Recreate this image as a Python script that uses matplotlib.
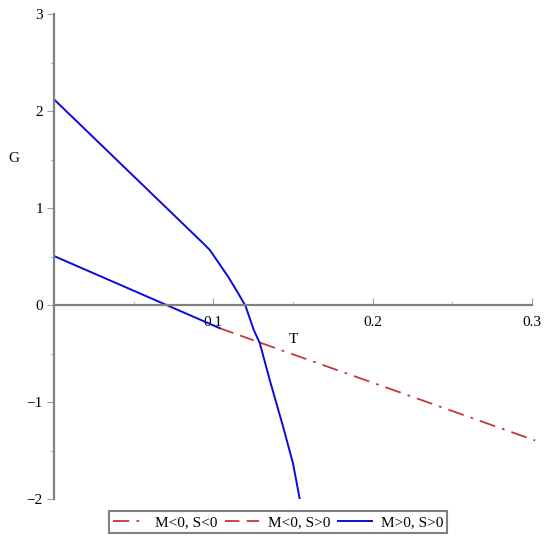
import matplotlib
matplotlib.use('Agg')
import matplotlib.pyplot as plt

plt.rcParams.update({
    'font.family': ['Liberation Serif', 'DejaVu Serif'],
    'font.size': 11,
})

# Data
upper_T = [0.0, 0.094, 0.0978, 0.1093, 0.1156, 0.1202, 0.1254, 0.1292, 0.1354, 0.1438, 0.1500, 0.1542]
upper_G = [2.12, 0.63, 0.567, 0.292, 0.121, -0.01, -0.258, -0.395, -0.773, -1.255, -1.632, -2.0]
lower_T = [0.0, 0.0706, 0.104]
lower_G = [0.505, 0.0, -0.239]
dash_T = [0.104, 0.129]
dash_G = [-0.239, -0.386]
dashdot_T = [0.129, 0.302]
dashdot_G = [-0.386, -1.397]

labels = ['M<0, S<0', 'M<0, S>0', 'M>0, S>0']
RED = '#c83737'
BLUE = '#0a0ae0'

fig = plt.figure(figsize=(5.48, 5.43), dpi=100)
ax = fig.add_axes([54 / 548, 44 / 543, 478 / 548, 485 / 543])

l1, = ax.plot(dashdot_T, dashdot_G, color=RED, lw=1.3, dashes=(9, 4, 1.5, 4), clip_on=False)
l2, = ax.plot(dash_T, dash_G, color=RED, lw=1.3, dashes=(8, 4))
l3, = ax.plot(upper_T, upper_G, color=BLUE, lw=1.4)
ax.plot(lower_T, lower_G, color=BLUE, lw=1.4)

ax.set_xlim(0, 0.3)
ax.set_ylim(-2, 3)

for s in ['top', 'right']:
    ax.spines[s].set_visible(False)
ax.spines['bottom'].set_position(('data', 0))
ax.spines['left'].set_position(('data', 0))
for s in ['bottom', 'left']:
    ax.spines[s].set_color('#808080')
    ax.spines[s].set_linewidth(1.6)

ax.set_xticks([0.1, 0.2, 0.3])
ax.set_xticklabels(['0.1', '0.2', '0.3'])
ax.set_xticks([0.05, 0.15, 0.25], minor=True)
ax.set_yticks([-2, -1, 0, 1, 2, 3])
ax.set_yticklabels(['\u22122', '\u22121', '0', '1', '2', '3'])
ax.set_yticks([-1.5, -0.5, 0.5, 1.5, 2.5], minor=True)

ax.tick_params(axis='x', which='major', direction='in', length=5, width=0.8,
               color='#a0a0a0', pad=8, labelsize=11)
ax.tick_params(axis='x', which='minor', direction='in', length=3, width=0.8, color='#c0c0c0')
ax.tick_params(axis='y', which='major', direction='out', length=5, width=0.8,
               color='#a0a0a0', pad=3, labelsize=11)
ax.tick_params(axis='y', which='minor', direction='out', length=3, width=0.8, color='#c0c0c0')

ax.text(0.5, 0.328, 'T', transform=ax.transAxes, ha='center', va='center', fontsize=11)
ax.text(-0.084, 0.703, 'G', transform=ax.transAxes, ha='center', va='center', fontsize=11)

leg = fig.legend([l1, l2, l3], labels, loc='center', bbox_to_anchor=(278 / 548, 1 - 522 / 543),
                 ncol=3, frameon=True, fancybox=False, fontsize=11, handlelength=2.2,
                 columnspacing=0.5, handletextpad=0.6, borderpad=0.25, borderaxespad=0)
leg.get_frame().set_edgecolor('#606060')
leg.get_frame().set_linewidth(1.5)

fig.savefig('out.png', dpi=100)
